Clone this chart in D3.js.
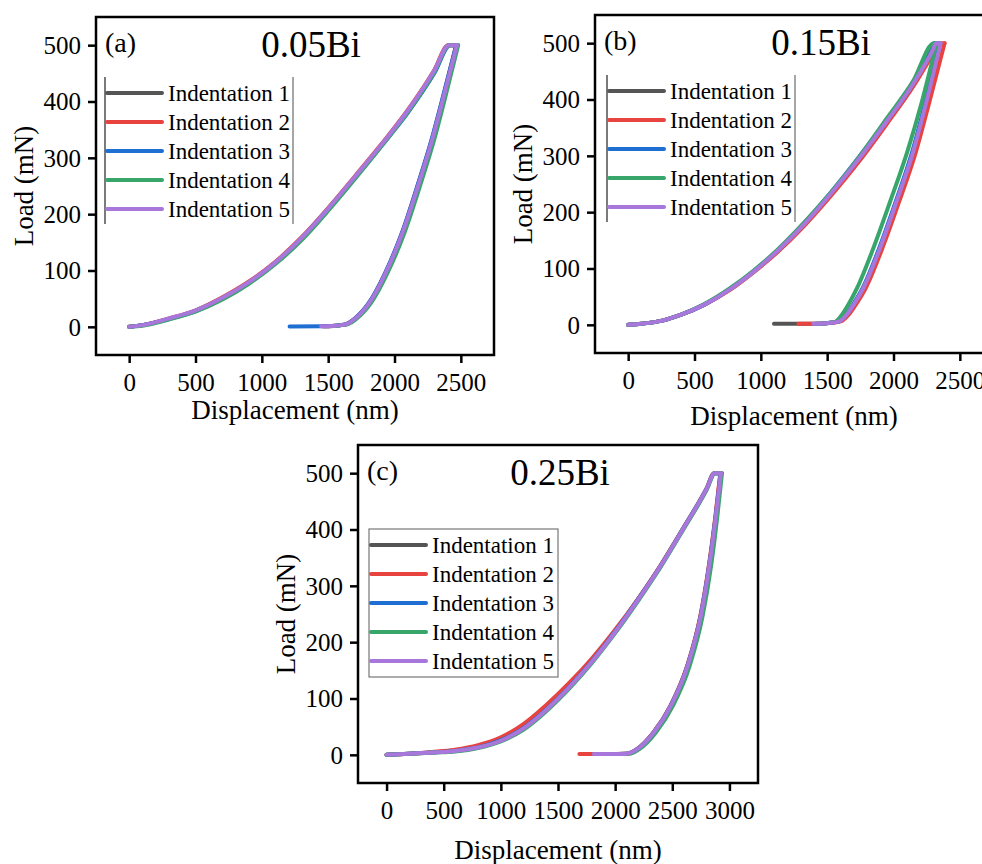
<!DOCTYPE html>
<html>
<head>
<meta charset="utf-8">
<script src="https://cdn.jsdelivr.net/npm/d3@7"></script>
<style>
  body { margin: 0; background: #fff; }
  svg { display: block; font-family: "Liberation Serif", "Times New Roman", serif; }
</style>
</head>
<body>
<svg id="chart" width="982" height="864"></svg>
<script>
// Nanoindentation load–displacement curves, five indentations per alloy
const seriesNames = ["Indentation 1", "Indentation 2", "Indentation 3", "Indentation 4", "Indentation 5"];
const seriesColors = ["#555555", "#e8433f", "#1f6fd3", "#38a56a", "#a877dc"];
const panelTags = ["(a)", "(b)", "(c)"];
const alloyNames = ["0.05Bi", "0.15Bi", "0.25Bi"];
const loadTicks = [0, 100, 200, 300, 400, 500];
const depthTicksAB = [0, 500, 1000, 1500, 2000, 2500];
const depthTicksC = [0, 500, 1000, 1500, 2000, 2500, 3000];

// [displacement nm, load mN] — loading branch, per indentation
const loadingA = [
  [[0,0],[100,3],[300,14],[500,29],[700,51],[900,79],[1100,114],[1300,158],[1500,210],[1700,265],[1900,322],[2100,383],[2300,454],[2410,500]],
  [[0,0],[100,3],[300,15],[500,29],[700,52],[900,80],[1100,115],[1300,159],[1500,211],[1700,267],[1900,324],[2100,385],[2300,456],[2405,500]],
  [[0,0],[100,3],[300,14],[500,28],[700,50],[900,78],[1100,113],[1300,157],[1500,209],[1700,264],[1900,321],[2100,380],[2300,450],[2420,500]],
  [[0,0],[100,2],[300,13],[500,27],[700,48],[900,76],[1100,111],[1300,154],[1500,206],[1700,262],[1900,320],[2100,381],[2300,452],[2415,500]],
  [[0,0],[100,3],[300,15],[500,29],[700,51],[900,79],[1100,114],[1300,158],[1500,210],[1700,266],[1900,323],[2100,384],[2300,455],[2410,500]]
];
// unloading branch, starting where the hold at peak load ends
const unloadingA = [
  [[2468,500],[2384,422],[2284,333],[2184,256],[2059,167],[1933,96],[1808,42],[1699,14],[1639,5],[1596,3],[1520,1.5],[1460,1]],
  [[2465,500],[2382,422],[2282,333],[2182,256],[2058,167],[1932,96],[1807,42],[1698,14],[1638,5],[1595,3],[1520,1.5],[1470,1]],
  [[2465,500],[2380,422],[2280,333],[2180,256],[2056,167],[1930,96],[1805,42],[1696,14],[1636,5],[1590,3],[1450,1],[1209,0.5]],
  [[2480,500],[2398,422],[2300,333],[2200,256],[2075,167],[1948,96],[1822,42],[1712,14],[1652,5],[1605,3],[1540,1.5],[1500,1]],
  [[2470,500],[2385,422],[2285,333],[2185,256],[2060,167],[1934,96],[1809,42],[1700,14],[1640,5],[1597,3],[1520,1.5],[1447,1]]
];

const loadingB = [
  [[0,0],[100,2],[266,8],[400,18],[567,35],[768,63],[944,94],[1120,129],[1320,176],[1521,230],[1747,296],[1948,360],[2149,427],[2320,500]],
  [[0,0],[100,2],[266,8],[400,18],[567,35],[768,62],[944,93],[1120,128],[1320,174],[1521,227],[1747,292],[1948,356],[2149,423],[2300,482],[2345,500]],
  [[0,0],[100,2],[266,8],[400,18],[567,35],[768,64],[944,95],[1120,131],[1320,179],[1521,233],[1747,300],[1948,363],[2149,429],[2310,500]],
  [[0,0],[100,2],[266,8],[400,18],[567,36],[768,65],[944,96],[1120,132],[1320,180],[1521,233],[1747,300],[1948,366],[2149,433],[2305,500]],
  [[0,0],[100,2],[266,8],[400,18],[567,35],[768,63],[944,94],[1120,130],[1320,177],[1521,231],[1747,297],[1948,361],[2149,428],[2300,490],[2320,500]]
];
const unloadingB = [
  [[2352,500],[2247,397],[2147,308],[2021,219],[1896,136],[1770,65],[1698,36],[1645,18],[1588,6],[1544,4],[1440,2],[1099,2]],
  [[2385,500],[2272,397],[2170,308],[2043,219],[1916,136],[1790,65],[1716,36],[1662,18],[1602,6],[1556,4],[1446,2],[1283,2]],
  [[2345,500],[2242,397],[2142,308],[2017,219],[1892,136],[1767,65],[1695,36],[1643,18],[1586,6],[1542,4],[1450,2],[1410,2]],
  [[2325,500],[2215,397],[2105,308],[1975,219],[1848,136],[1725,65],[1660,36],[1612,18],[1565,6],[1530,4],[1450,2],[1420,2]],
  [[2355,500],[2249,397],[2149,308],[2023,219],[1898,136],[1772,65],[1700,36],[1647,18],[1590,6],[1546,4],[1446,2],[1396,2]]
];

const loadingC = [
  [[0,0],[200,2],[400,4],[600,8],[800,14],[1000,27],[1200,49],[1400,82],[1600,122],[1800,168],[2000,219],[2200,276],[2400,337],[2600,404],[2800,473],[2868,500]],
  [[0,0],[200,2],[400,5],[600,9],[800,17],[1000,31],[1200,55],[1400,89],[1600,128],[1800,172],[2000,222],[2200,277],[2400,337],[2600,403],[2800,472],[2865,500]],
  [[0,0],[200,2],[400,4],[600,7],[800,13],[1000,26],[1200,48],[1400,81],[1600,121],[1800,167],[2000,219],[2200,276],[2400,336],[2600,403],[2800,472],[2870,500]],
  [[0,0],[200,2],[400,4],[600,6],[800,12],[1000,24],[1200,45],[1400,78],[1600,118],[1800,164],[2000,216],[2200,273],[2400,334],[2600,401],[2800,470],[2875,500]],
  [[0,0],[200,2],[400,4],[600,7],[800,13],[1000,25],[1200,47],[1400,80],[1600,120],[1800,166],[2000,218],[2200,275],[2400,336],[2600,403],[2800,472],[2870,500]]
];
const unloadingC = [
  [[2922,500],[2880,425],[2822,336],[2748,247],[2632,158],[2485,87],[2338,40],[2192,10],[2138,4],[2104,2],[1950,1.5],[1850,1.5]],
  [[2920,500],[2878,425],[2820,336],[2746,247],[2630,158],[2483,87],[2336,40],[2190,10],[2136,4],[2100,2],[1900,1.5],[1687,1.5]],
  [[2924,500],[2881,425],[2823,336],[2749,247],[2633,158],[2486,87],[2339,40],[2193,10],[2139,4],[2105,2],[1950,1.5],[1830,1.5]],
  [[2935,500],[2895,425],[2840,336],[2766,247],[2652,158],[2505,87],[2358,40],[2212,10],[2160,4],[2125,2],[2000,1.5],[1900,1.5]],
  [[2925,500],[2882,425],[2824,336],[2750,247],[2634,158],[2487,87],[2340,40],[2194,10],[2140,4],[2106,2],[2000,1.5],[1813,1.5]]
];

// panel geometry
const panels = [
  { left: 96,  top: 17,  width: 398, height: 338, xDomain: [-250, 2750], xTicks: depthTicksAB,
    loading: loadingA, unloading: unloadingA, titleX: 311, xTitleGap: 64,
    legend: { dx: 9, dy: 60, w: 188, h: 147, boxed: false } },
  { left: 595, top: 15,  width: 398, height: 338, xDomain: [-250, 2750], xTicks: depthTicksAB,
    loading: loadingB, unloading: unloadingB, titleX: 821, xTitleGap: 72,
    legend: { dx: 12, dy: 60, w: 188, h: 147, boxed: false } },
  { left: 358, top: 445, width: 400, height: 338, xDomain: [-250, 3250], xTicks: depthTicksC,
    loading: loadingC, unloading: unloadingC, titleX: 560, xTitleGap: 76,
    legend: { dx: 11, dy: 84, w: 189, h: 148, boxed: true } }
];

const svg = d3.select("#chart");
const serif = "'Liberation Serif', 'Times New Roman', serif";

panels.forEach((p, pi) => {
  const g = svg.append("g").attr("transform", `translate(${p.left},${p.top})`);
  const x = d3.scaleLinear().domain(p.xDomain).range([0, p.width]);
  const y = d3.scaleLinear().domain([-50, 550]).range([p.height, 0]);

  const line = d3.line()
    .x(d => x(d[0]))
    .y(d => y(d[1]))
    .curve(d3.curveMonotoneX);

  // curves, indentation 5 drawn last
  p.loading.forEach((ld, i) => {
    const un = p.unloading[i];
    const style = sel => sel
      .attr("fill", "none")
      .attr("stroke", seriesColors[i])
      .attr("stroke-width", 4)
      .attr("stroke-linejoin", "round")
      .attr("stroke-linecap", "round");
    // loading plus the hold at peak load
    g.append("path").attr("d", line(ld.concat([un[0]]))).call(style);
    // unloading, traced in increasing displacement
    g.append("path").attr("d", line(un.slice().sort((a, b) => a[0] - b[0]))).call(style);
  });

  // axes
  const xAxis = g.append("g").attr("transform", `translate(0,${p.height})`)
    .call(d3.axisBottom(x).tickValues(p.xTicks).tickFormat(d3.format("d"))
      .tickSize(8).tickSizeOuter(0).tickPadding(10));
  const yAxis = g.append("g")
    .call(d3.axisLeft(y).tickValues(loadTicks).tickFormat(d3.format("d"))
      .tickSize(8).tickSizeOuter(0).tickPadding(7));
  [xAxis, yAxis].forEach(a => {
    a.attr("font-family", serif).attr("font-size", 25);
    a.select(".domain").remove();
    a.selectAll(".tick line").attr("stroke", "#000").attr("stroke-width", 2.5);
    a.selectAll(".tick text").attr("fill", "#000");
  });
  xAxis.selectAll(".tick text").attr("dy", "0.71em");
  yAxis.selectAll(".tick text").attr("dy", "0.33em");

  // frame
  g.append("rect")
    .attr("width", p.width).attr("height", p.height)
    .attr("fill", "none").attr("stroke", "#000").attr("stroke-width", 2.5);

  // axis titles
  g.append("text")
    .attr("x", p.width / 2).attr("y", p.height + p.xTitleGap)
    .attr("text-anchor", "middle").style("font-size", "27px")
    .text("Displacement (nm)");
  g.append("text")
    .attr("transform", `translate(-63,${p.height / 2}) rotate(-90)`)
    .attr("text-anchor", "middle").style("font-size", "27px")
    .text("Load (mN)");

  // panel tag and alloy name
  g.append("text").attr("x", 9).attr("y", 35).style("font-size", "28px").text(panelTags[pi]);
  g.append("text").attr("x", p.titleX - p.left).attr("y", 40)
    .attr("text-anchor", "middle").style("font-size", "37px").text(alloyNames[pi]);

  // legend
  const L = p.legend;
  const lg = g.append("g").attr("transform", `translate(${L.dx},${L.dy})`);
  if (L.boxed) {
    lg.append("rect").attr("width", L.w).attr("height", L.h)
      .attr("fill", "#fff").attr("stroke", "#777").attr("stroke-width", 1.2);
  } else {
    lg.append("line").attr("x1", 0).attr("x2", 0).attr("y1", 0).attr("y2", L.h)
      .attr("stroke", "#222").attr("stroke-width", 1.2);
    lg.append("line").attr("x1", L.w).attr("x2", L.w).attr("y1", 0).attr("y2", L.h)
      .attr("stroke", "#888").attr("stroke-width", 1.5);
  }
  seriesNames.forEach((name, i) => {
    const ry = 16 + i * 29;
    lg.append("line").attr("x1", 2).attr("x2", 57).attr("y1", ry).attr("y2", ry)
      .attr("stroke", seriesColors[i]).attr("stroke-width", 4).attr("stroke-linecap", "round");
    lg.append("text").attr("x", 63).attr("y", ry + 8).style("font-size", "23px").text(name);
  });
});
</script>
</body>
</html>
